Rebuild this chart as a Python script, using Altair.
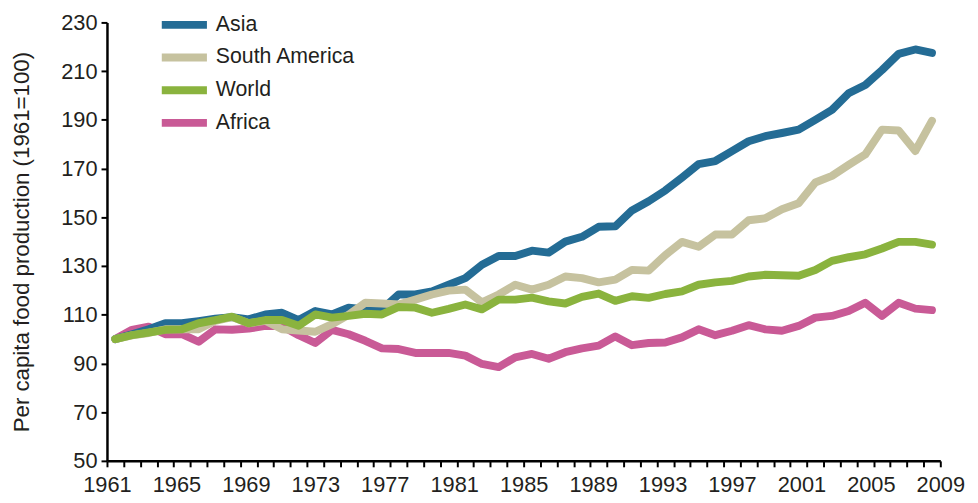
import altair as alt
import pandas as pd

# ---- data ----
years = list(range(1961, 2011))

asia = [100, 102, 104, 106.5, 106.5, 107.4, 108.4, 109, 108.1, 110.1,
        110.8, 107.8, 111.5, 110.1, 112.9, 112.2, 112.2, 118.3, 118.3, 119.6,
        122.3, 125, 130.5, 134.1, 134.1, 136.3, 135.5, 140, 142, 146.1,
        146.3, 152.8, 156.6, 161, 166.3, 171.8, 173.1, 177.2, 181.2, 183.3,
        184.6, 186, 190, 194.1, 200.9, 204.3, 210.4, 217.1, 218.9, 217.5]

south_america = [100, 101.5, 102.5, 104, 104, 104, 107.5, 109, 106.5, 107.5,
                 104, 103.5, 103, 106.1, 110, 114.9, 114.6, 114.2, 116.2, 118.3,
                 119.9, 120.3, 115.1, 118.3, 122.3, 120.3, 122.3, 125.7, 125, 123.3,
                 124.4, 128.4, 128.1, 134.5, 139.9, 137.9, 142.9, 142.9, 148.8, 149.6,
                 153.3, 155.8, 164.3, 167, 171.5, 175.8, 186, 185.6, 177.2, 189.6]

world = [100, 101.6, 102.7, 103.8, 104, 106.5, 107.8, 109.2, 106.5, 107.8,
         107.8, 105.5, 110.1, 108.8, 109.5, 110.4, 110.1, 113.2, 112.9, 110.8,
         112.4, 114.2, 112.2, 116.2, 116.2, 117, 115.5, 114.6, 117.3, 118.7,
         115.7, 117.6, 116.9, 118.5, 119.6, 122.3, 123.3, 123.9, 125.7, 126.4,
         126.2, 126, 128.4, 132.1, 133.6, 134.8, 137.2, 139.9, 139.9, 138.8]

africa = [100, 103.8, 105.1, 102, 102, 98.9, 104, 103.8, 104.3, 105.4,
          105.4, 101.6, 98.4, 103.8, 102, 99.3, 96.2, 95.9, 94.3, 94.3,
          94.3, 93.2, 89.8, 88.5, 92.5, 93.9, 91.9, 94.6, 96.2, 97.3,
          101.1, 97.5, 98.4, 98.6, 100.7, 104, 101.6, 103.4, 105.7, 104,
          103.4, 105.4, 108.8, 109.5, 111.5, 114.9, 109.5, 114.9, 112.5, 111.9]

regions = ["Asia", "South America", "World", "Africa"]
colors = ["#246c95", "#c6c29f", "#8ab33e", "#c95a96"]
draw_order = ["Africa", "Asia", "South America", "World"]

label_years = [1961, 1965, 1969, 1973, 1977, 1981, 1985, 1989, 1993, 1997, 2001, 2005, 2009]
tick_bounds = [y - 0.5 for y in years] + [years[-1] + 0.5]
y_ticks = [50, 70, 90, 110, 130, 150, 170, 190, 210, 230]

rows = []
for name, vals in zip(regions, [asia, south_america, world, africa]):
    for yr, v in zip(years, vals):
        rows.append({"year": yr, "region": name, "value": v})
df = pd.DataFrame(rows)

FONT = "Liberation Sans"
TXT = "#231f20"

x_lines = alt.X(
    "year:Q",
    scale=alt.Scale(domain=[tick_bounds[0], tick_bounds[-1]], nice=False, zero=False),
    axis=alt.Axis(values=tick_bounds, labels=False, ticks=True, tickSize=6, tickWidth=2,
                  tickColor="black", domain=True, domainColor="black", domainWidth=2.5,
                  grid=False, title=None, orient="bottom"),
)
y_enc = alt.Y(
    "value:Q",
    scale=alt.Scale(domain=[50, 230], nice=False, zero=False),
    axis=alt.Axis(values=y_ticks, tickSize=6, tickWidth=2, tickColor="black",
                  domainColor="black", domainWidth=2.5, grid=False,
                  labelFont=FONT, labelFontSize=22, labelColor=TXT, labelPadding=4,
                  title="Per capita food production (1961=100)",
                  titleFont=FONT, titleFontSize=22.5, titleFontWeight="normal",
                  titleColor=TXT, titleX=-86, titleY=221.5, titleAngle=270,
                  titleAlign="center", titleBaseline="middle"),
)
color = alt.Color(
    "region:N",
    scale=alt.Scale(domain=regions, range=colors),
    legend=alt.Legend(title=None, orient="none", legendX=51, legendY=-11,
                      symbolType="M-1,0H4", symbolSize=333, symbolStrokeWidth=8,
                      symbolFillColor="transparent",
                      labelFont=FONT, labelFontSize=21.5, labelColor=TXT,
                      rowPadding=0, labelOffset=32, padding=0),
)

lines = alt.layer(*[
    alt.Chart(df).transform_filter(alt.datum.region == r)
    .mark_line(strokeWidth=8, strokeCap="round", strokeJoin="round")
    .encode(x=x_lines, y=y_enc, color=color)
    for r in draw_order
])

labels_layer = alt.Chart(pd.DataFrame({"year": label_years})).mark_point(opacity=0).encode(
    x=alt.X("year:Q",
            scale=alt.Scale(domain=[label_years[0], label_years[-1]], nice=False, zero=False),
            axis=alt.Axis(values=label_years, format="d", domain=False, ticks=False,
                          tickSize=0, labelPadding=14, labelFont=FONT, labelFontSize=22,
                          labelColor=TXT, grid=False, title=None, orient="bottom",
                          labelOverlap=False, labelFlush=False)),
    y=alt.value(0),
)

chart = (
    alt.layer(lines, labels_layer)
    .resolve_scale(x="independent")
    .properties(width=842, height=443,
                padding={"left": 100, "top": 12, "right": 30, "bottom": 40},
                autosize=alt.AutoSizeParams(type="none"))
    .configure_view(stroke=None)
)

chart.save("out.html", embed_options={"renderer": "svg", "actions": False})
